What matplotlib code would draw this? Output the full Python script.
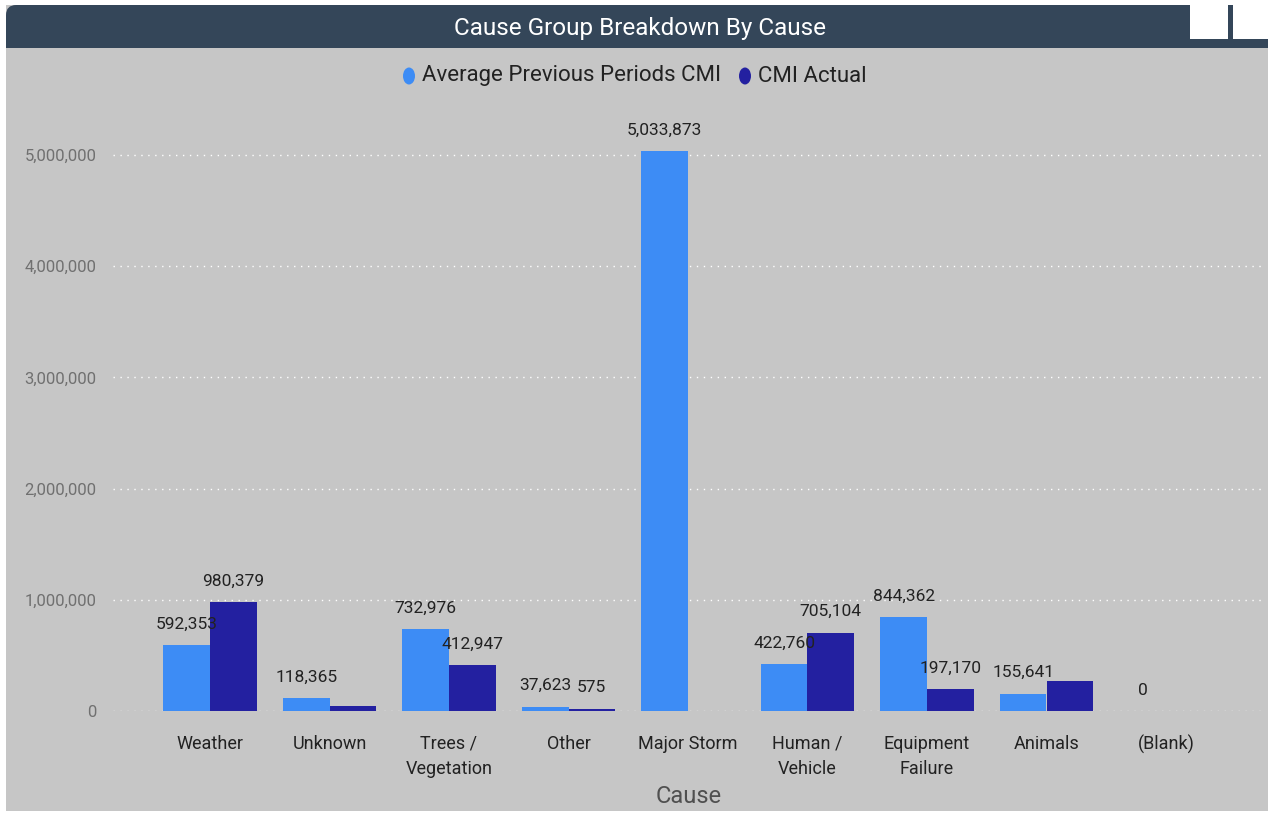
import matplotlib
matplotlib.use("Agg")
import matplotlib.pyplot as plt
import numpy as np
from matplotlib.patches import FancyBboxPatch, Rectangle, Ellipse

categories = ["Weather", "Unknown", "Trees /\nVegetation", "Other", "Major Storm",
              "Human /\nVehicle", "Equipment\nFailure", "Animals", "(Blank)"]
avg_prev = [592353, 118365, 732976, 37623, 5033873, 422760, 844362, 155641, 0]
cmi_actual = [980379, 45000, 412947, 20000, np.nan, 705104, 197170, 270000, np.nan]
avg_labels = ["592,353", "118,365", "732,976", "37,623", "5,033,873", "422,760", "844,362", "155,641", "0"]
act_labels = ["980,379", None, "412,947", "575", None, "705,104", "197,170", None, None]
yticks = [0, 1000000, 2000000, 3000000, 4000000, 5000000]
ytick_labels = ["0", "1,000,000", "2,000,000", "3,000,000", "4,000,000", "5,000,000"]

W, H = 1268, 813
plt.rcParams['font.family'] = ['Roboto', 'DejaVu Sans']
fig = plt.figure(figsize=(W/100, H/100), dpi=100)
fig.patch.set_facecolor("white")

BG = "#c6c6c6"
fig.add_artist(Rectangle((6/W, 2/H), 1 - 6/W, 1 - 7/H, transform=fig.transFigure,
                         facecolor=BG, edgecolor="none", zorder=0))
# header
HDR = "#344659"
fig.add_artist(FancyBboxPatch((6/W, 1 - 48/H), 1 - 6/W, 43/H,
                              boxstyle="round,pad=0,rounding_size=0.008",
                              transform=fig.transFigure, facecolor=HDR,
                              edgecolor="none", zorder=1, mutation_aspect=W/H))
fig.add_artist(Rectangle((6/W, 1 - 48/H), 1 - 6/W, 25/H, transform=fig.transFigure,
                         facecolor=HDR, edgecolor="none", zorder=1))
fig.add_artist(Rectangle((1190/W, 1 - 39/H), 38/W, 34/H, transform=fig.transFigure,
                         facecolor="white", edgecolor="none", zorder=2))
fig.add_artist(Rectangle((1233/W, 1 - 39/H), 35/W, 34/H, transform=fig.transFigure,
                         facecolor="white", edgecolor="none", zorder=2))
fig.text(640/W, 1 - 28/H, "Cause Group Breakdown By Cause", color="white",
         fontsize=17.5, ha="center", va="center", zorder=3)

# legend
LIGHT = "#3d8cf5"
DARK = "#2320a0"
ly = 1 - 76/H
fig.add_artist(Ellipse((409/W, ly), 12/W, 17/H, transform=fig.transFigure,
                       facecolor=LIGHT, edgecolor="none", zorder=3))
fig.text(422/W, ly, "Average Previous Periods CMI", fontsize=16, color="#222222",
         ha="left", va="center")
fig.add_artist(Ellipse((745/W, ly), 12/W, 17/H, transform=fig.transFigure,
                       facecolor=DARK, edgecolor="none", zorder=3))
fig.text(758/W, ly, "CMI Actual", fontsize=16, color="#222222", ha="left", va="center")

# axes
y0_px, ymax_px = 711, 110
per_m = (711 - 155) / 5.0
ymax = (y0_px - ymax_px) / per_m * 1e6
left_px, right_px = 113, 1265
ax = fig.add_axes([left_px/W, 1 - y0_px/H, (right_px - left_px)/W, (y0_px - ymax_px)/H])
ax.set_facecolor("none")
spacing = 119.5
x = np.arange(len(categories))
ax.set_xlim(-(210 - left_px)/spacing, (right_px - 210)/spacing)
ax.set_ylim(0, ymax)

bw = 0.39
ax.bar(x - bw/2, avg_prev, width=bw, color=LIGHT, zorder=3)
ax.bar(x + bw/2, cmi_actual, width=bw, color=DARK, zorder=3)

off = 21 / per_m * 1e6
for i, (v, lab) in enumerate(zip(avg_prev, avg_labels)):
    if lab is not None:
        ax.text(i - bw/2, v + off, lab, ha="center", va="center", fontsize=12.5, color="#222222", zorder=4)
for i, (v, lab) in enumerate(zip(cmi_actual, act_labels)):
    if lab is not None:
        ax.text(i + bw/2, v + off, lab, ha="center", va="center", fontsize=12.5, color="#222222", zorder=4)

ax.set_yticks(yticks)
ax.set_yticklabels(ytick_labels, fontsize=12, color="#707070")
ax.set_xticks(x)
ax.set_xticklabels(categories, fontsize=13, color="#222222", linespacing=1.5)
ax.tick_params(axis="both", length=0)
ax.tick_params(axis="y", pad=12)
ax.tick_params(axis="x", pad=17)
ax.yaxis.grid(True, color="white", linestyle=(0, (1, 4)), linewidth=1.0, zorder=1)
for s in ax.spines.values():
    s.set_visible(False)
ax.set_xlabel("Cause", fontsize=17, color="#505050", labelpad=5)

fig.savefig("out.png", dpi=100, facecolor=fig.get_facecolor())
